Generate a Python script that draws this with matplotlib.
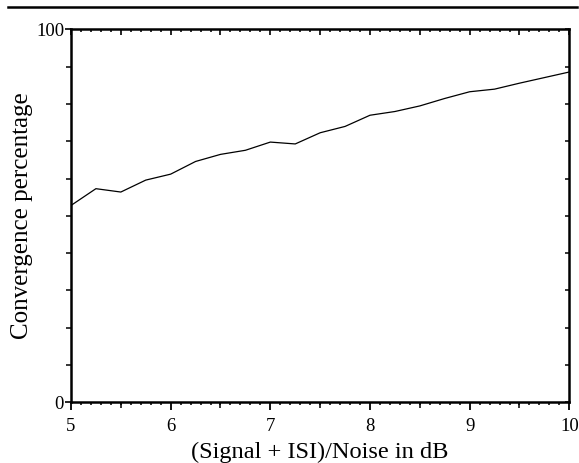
import matplotlib
matplotlib.use("Agg")
import matplotlib.pyplot as plt
from matplotlib.lines import Line2D
from matplotlib.ticker import MultipleLocator, FixedLocator, NullFormatter

plt.rcParams['font.family'] = ['Liberation Serif', 'DejaVu Serif']

# SNR in dB and convergence percentage
snr_db = [5.0, 5.25, 5.5, 5.75, 6.0, 6.25, 6.5, 6.75, 7.0, 7.25, 7.5,
          7.75, 8.0, 8.25, 8.5, 8.75, 9.0, 9.25, 9.5, 9.75, 10.0]
convergence = [52.8, 57.3, 56.4, 59.6, 61.2, 64.6, 66.5, 67.6, 69.8, 69.3, 72.3,
               74.0, 77.0, 78.0, 79.5, 81.5, 83.3, 84.0, 85.6, 87.1, 88.6]

x_ticks = [5, 6, 7, 8, 9, 10]
y_ticks = [0, 100]

fig = plt.figure(figsize=(5.79, 4.63), dpi=100)
ax = fig.add_axes([0.1226, 0.1311, 0.8607, 0.8052])

ax.plot(snr_db, convergence, color='black', lw=0.9)
ax.set_xlim(5, 10)
ax.set_ylim(0, 100)

for s in ax.spines.values():
    s.set_linewidth(1.8)

# bottom axis: labelled integers, everything pointing outward
ax.set_xticks(x_ticks)
ax.set_xticklabels([str(v) for v in x_ticks])
ax.xaxis.set_minor_locator(MultipleLocator(0.1))
ax.tick_params(axis='x', which='major', direction='out', length=5.5, width=1.3,
               labelsize=13.5, pad=6, top=False)
ax.tick_params(axis='x', which='minor', direction='out', length=2.5, width=1.1,
               top=False)

# extra half-unit ticks at the bottom
half = ax.secondary_xaxis('bottom')
half.xaxis.set_major_locator(FixedLocator([5.5, 6.5, 7.5, 8.5, 9.5]))
half.xaxis.set_major_formatter(NullFormatter())
half.tick_params(direction='out', length=4, width=1.1)
half.spines['bottom'].set_visible(False)

# top axis: ticks inward every 0.5 and 0.1
top = ax.secondary_xaxis('top')
top.xaxis.set_major_locator(MultipleLocator(0.5))
top.xaxis.set_minor_locator(MultipleLocator(0.1))
top.xaxis.set_major_formatter(NullFormatter())
top.tick_params(which='major', direction='in', length=4.5, width=1.2)
top.tick_params(which='minor', direction='in', length=2.5, width=1.1)
top.spines['top'].set_visible(False)

# left axis: 0 and 100 labelled, ticks every 10 outward
ax.set_yticks(y_ticks)
ax.set_yticklabels([str(v) for v in y_ticks])
ax.yaxis.set_minor_locator(MultipleLocator(10))
ax.tick_params(axis='y', which='major', direction='out', length=4, width=1.2,
               labelsize=13.5, pad=1, right=False)
ax.tick_params(axis='y', which='minor', direction='out', length=3.5, width=1.1,
               right=False)

# right axis: ticks every 10 inward
rgt = ax.secondary_yaxis('right')
rgt.yaxis.set_major_locator(MultipleLocator(10))
rgt.yaxis.set_major_formatter(NullFormatter())
rgt.tick_params(direction='in', length=3, width=1.1)
rgt.spines['right'].set_visible(False)

ax.set_xlabel('(Signal + ISI)/Noise in dB', fontsize=17.6, labelpad=5)
ax.set_ylabel('Convergence percentage', fontsize=18)
ax.yaxis.set_label_coords(-0.076, 0.5)

# rule across the top of the page
fig.add_artist(Line2D([8 / 579, 577 / 579], [1 - 7.3 / 463, 1 - 7.3 / 463],
                      transform=fig.transFigure, color='black', lw=1.8))

fig.savefig('out.png', dpi=100)
